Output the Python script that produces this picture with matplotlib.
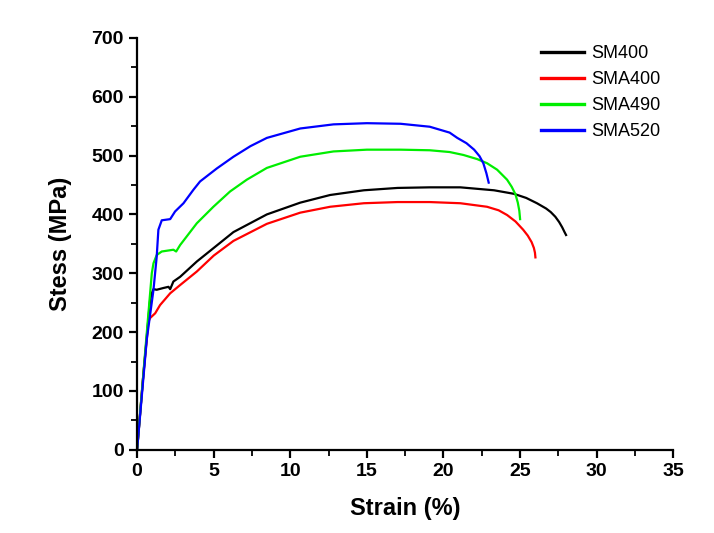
import matplotlib.pyplot as plt

# strain (%) / stress (MPa)
sm400_x = [0, 0.4, 0.85, 0.96, 1.07, 1.28, 1.72, 2.05, 2.16, 2.37, 2.81, 3.9, 5.0, 6.29, 8.47, 10.65, 12.6, 14.8, 17.0, 19.1, 21.1, 23.3, 24.6, 25.4, 26.1, 26.7, 27.0, 27.3, 27.55, 27.75, 27.9, 28.0]
sm400_y = [0, 125, 255, 266, 273, 272, 275, 277, 273, 286, 294, 320, 343, 370, 400, 420, 433, 441, 445, 446, 446, 441, 435, 428, 419, 410, 404, 396, 387, 378, 370, 365]

sma400_x = [0, 0.4, 0.74, 0.85, 1.18, 1.5, 2.16, 2.81, 3.9, 5.0, 6.29, 8.47, 10.65, 12.6, 14.8, 17.0, 19.1, 21.1, 22.84, 23.6, 24.15, 24.7, 25.2, 25.5, 25.75, 25.9, 25.97, 26.0]
sma400_y = [0, 125, 218, 224, 232, 246, 266, 280, 303, 330, 355, 384, 403, 413, 419, 421, 421, 419, 413, 407, 399, 388, 374, 364, 353, 343, 335, 327]

sma490_x = [0, 0.5, 0.96, 1.07, 1.28, 1.61, 2.37, 2.55, 2.81, 3.9, 4.98, 6.07, 7.16, 8.47, 10.65, 12.82, 15.0, 17.2, 19.1, 20.4, 21.3, 22.2, 22.84, 23.5, 24.15, 24.45, 24.7, 24.85, 24.95, 25.0]
sma490_y = [0, 158, 300, 317, 331, 337, 340, 337, 348, 385, 413, 439, 459, 479, 498, 507, 510, 510, 509, 506, 501, 494, 487, 476, 459, 447, 434, 420, 406, 392]

sma520_x = [0, 0.63, 1.07, 1.28, 1.39, 1.61, 2.16, 2.48, 3.03, 3.68, 4.11, 5.2, 6.29, 7.4, 8.47, 10.65, 12.82, 15.0, 17.2, 19.1, 20.4, 20.9, 21.5, 22.0, 22.35, 22.6, 22.8, 22.95]
sma520_y = [0, 187, 272, 328, 374, 390, 392, 405, 419, 442, 456, 478, 498, 516, 530, 546, 553, 555, 554, 549, 539, 530, 521, 510, 499, 487, 470, 454]

series = [
    ("SM400", sm400_x, sm400_y, "black"),
    ("SMA400", sma400_x, sma400_y, "red"),
    ("SMA490", sma490_x, sma490_y, "#00ee00"),
    ("SMA520", sma520_x, sma520_y, "blue"),
]

plt.rcParams['font.family'] = ['Liberation Sans', 'DejaVu Sans']

fig = plt.figure(figsize=(7.14, 5.33), dpi=100)
ax = fig.add_axes([0.192, 0.156, 0.751, 0.773])

for name, xs, ys, col in series:
    ax.plot(xs, ys, color=col, lw=1.6, label=name)

ax.set_xlim(0, 35)
ax.set_ylim(0, 700)
ax.set_xticks(range(0, 36, 5))
ax.set_yticks(range(0, 701, 100))
ax.set_xticks([x + 2.5 for x in range(0, 35, 5)], minor=True)
ax.set_yticks([y + 50 for y in range(0, 700, 100)], minor=True)

for s in ['top', 'right']:
    ax.spines[s].set_visible(False)
for s in ['left', 'bottom']:
    ax.spines[s].set_linewidth(1.6)

ax.tick_params(which='major', direction='out', length=6, width=1.6, labelsize=14)
ax.tick_params(which='minor', direction='out', length=4, width=1.3)
for lab in ax.get_xticklabels() + ax.get_yticklabels():
    lab.set_fontweight('bold')

ax.set_xlabel("Strain (%)", fontsize=17, fontweight='bold', labelpad=12)
ax.set_ylabel("Stess (MPa)", fontsize=17, fontweight='bold', labelpad=14)

leg = ax.legend(loc='upper left', frameon=False, fontsize=13, handlelength=2.4,
                handletextpad=0.4, labelspacing=0.5, borderaxespad=0,
                bbox_to_anchor=(0.739, 1.0))
for h in leg.get_lines():
    h.set_linewidth(2.4)

fig.savefig("out.png", dpi=100)
